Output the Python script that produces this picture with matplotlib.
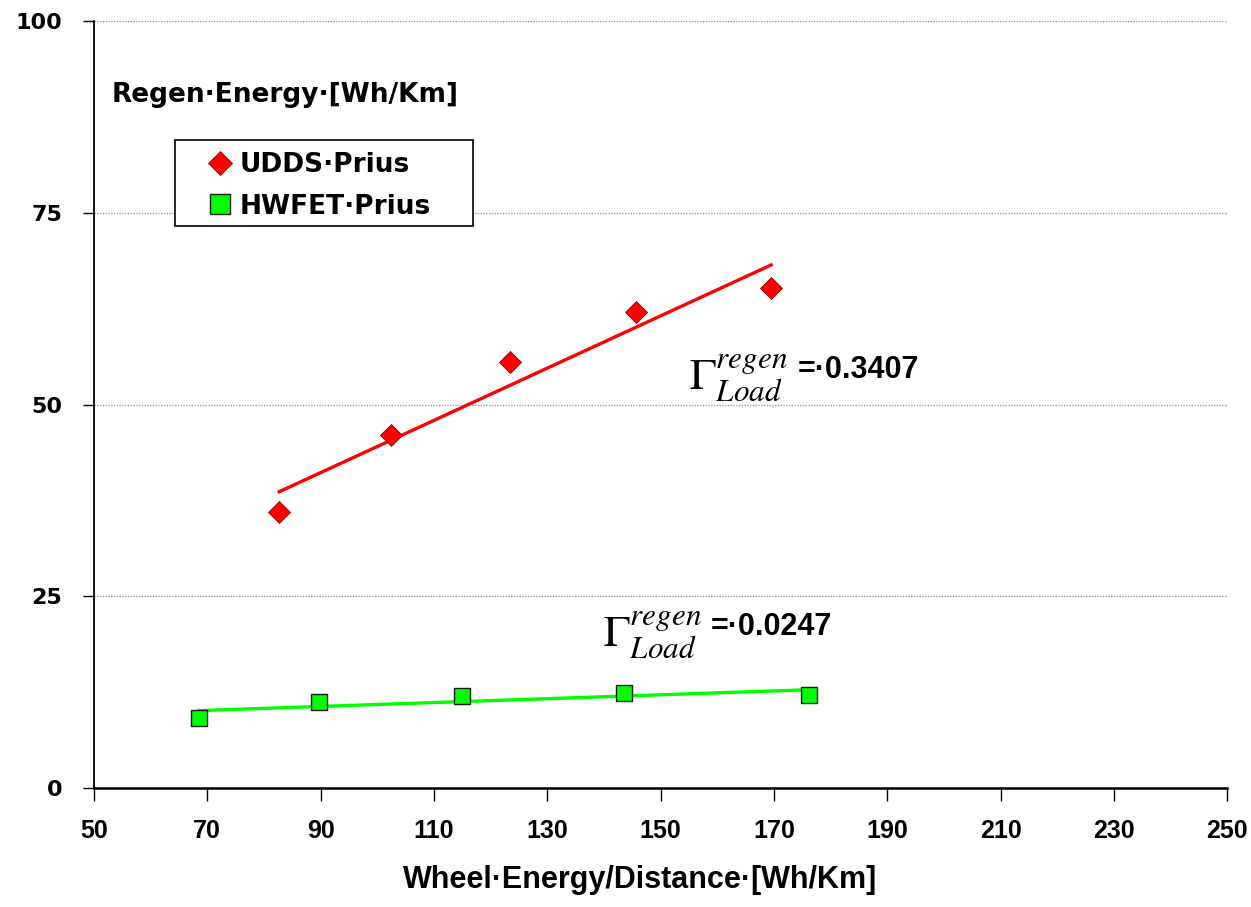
import numpy as np
import matplotlib
matplotlib.use("Agg")
import matplotlib.pyplot as plt
from matplotlib.patches import Rectangle

# Data
udds_x = [82.7, 102.4, 123.5, 145.7, 169.5]
udds_y = [36.0, 46.0, 55.5, 62.1, 65.2]
hwfet_x = [68.6, 89.8, 115.0, 143.6, 176.2]
hwfet_y = [9.1, 11.2, 12.0, 12.4, 12.1]
series_names = ["UDDS\u00b7Prius", "HWFET\u00b7Prius"]
x_ticks = [50, 70, 90, 110, 130, 150, 170, 190, 210, 230, 250]
y_ticks = [0, 25, 50, 75, 100]
gamma_udds = "=\u00b70.3407"
gamma_hwfet = "=\u00b70.0247"

fig = plt.figure(figsize=(12.51, 9.07), dpi=100)
ax = fig.add_axes([0.0751, 0.1312, 0.906, 0.8456])
ax.set_xlim(50, 250)
ax.set_ylim(0, 100)

# Regression lines
for xs, ys, col in [(udds_x, udds_y, "#ff0000"), (hwfet_x, hwfet_y, "#00ff00")]:
    p = np.polyfit(xs, ys, 1)
    xl = np.array([min(xs), max(xs)])
    ax.plot(xl, np.polyval(p, xl), color=col, linewidth=2.4, zorder=2)

ax.plot(udds_x, udds_y, linestyle="none", marker="D", markersize=11,
        markerfacecolor="#ff0000", markeredgecolor="#8b0000", markeredgewidth=0.6,
        label=series_names[0], zorder=3)
ax.plot(hwfet_x, hwfet_y, linestyle="none", marker="s", markersize=12,
        markerfacecolor="#00ff00", markeredgecolor="#1a1a1a", markeredgewidth=1.0,
        label=series_names[1], zorder=3)

ax.set_xticks(x_ticks)
ax.set_yticks(y_ticks)
ax.yaxis.grid(True, linestyle=(0, (1, 1)), color="#9a9a9a", linewidth=1.0)
ax.xaxis.grid(False)
ax.set_axisbelow(True)

for sp in ["top", "right"]:
    ax.spines[sp].set_visible(False)
ax.spines["left"].set_linewidth(1.3)
ax.spines["bottom"].set_linewidth(1.8)

ax.tick_params(axis="x", direction="out", length=9, width=1.0, pad=13)
ax.tick_params(axis="y", direction="out", length=8, width=1.0, pad=15)
for lbl in ax.get_xticklabels():
    lbl.set_fontfamily(["Liberation Sans Narrow", "Liberation Sans"])
    lbl.set_fontweight("bold")
    lbl.set_fontsize(18)
for lbl in ax.get_yticklabels():
    lbl.set_fontfamily("DejaVu Sans")
    lbl.set_fontweight("bold")
    lbl.set_fontsize(16)

ax.set_xlabel("Wheel\u00b7Energy/Distance\u00b7[Wh/Km]",
              fontfamily=["Liberation Sans Narrow", "Liberation Sans"],
              fontweight="bold", fontsize=22)
ax.xaxis.set_label_coords(0.482, -0.1)

ax.text(53.2, 90.4, "Regen\u00b7Energy\u00b7[Wh/Km]", fontfamily="DejaVu Sans",
        fontweight="bold", fontsize=19, va="center", ha="left")

ax.text(155.0, 53.5, r"$\Gamma_{Load}^{regen}$", math_fontfamily="stix",
        fontsize=32, va="center", ha="left")
ax.text(174.2, 54.5, gamma_udds, fontfamily="Liberation Sans", fontweight="bold",
        fontsize=22, va="center", ha="left")
ax.text(139.9, 20.0, r"$\Gamma_{Load}^{regen}$", math_fontfamily="stix",
        fontsize=32, va="center", ha="left")
ax.text(158.8, 21.0, gamma_hwfet, fontfamily="Liberation Sans", fontweight="bold",
        fontsize=22, va="center", ha="left")

# legend frame
ax.add_patch(Rectangle((0.0715, 0.7327), 0.263, 0.1123, transform=ax.transAxes,
                       facecolor="white", edgecolor="black", linewidth=1.2,
                       zorder=4))
leg = ax.legend(loc="upper left", bbox_to_anchor=(0.0936, 0.8295),
                prop={"family": "DejaVu Sans", "weight": "bold", "size": 19},
                frameon=False, handlelength=1.5, handletextpad=0.0,
                borderpad=0.0, labelspacing=0.6, borderaxespad=0,
                markerscale=1.15)
leg.set_zorder(5)

fig.savefig("out.png", dpi=100, facecolor="white")
